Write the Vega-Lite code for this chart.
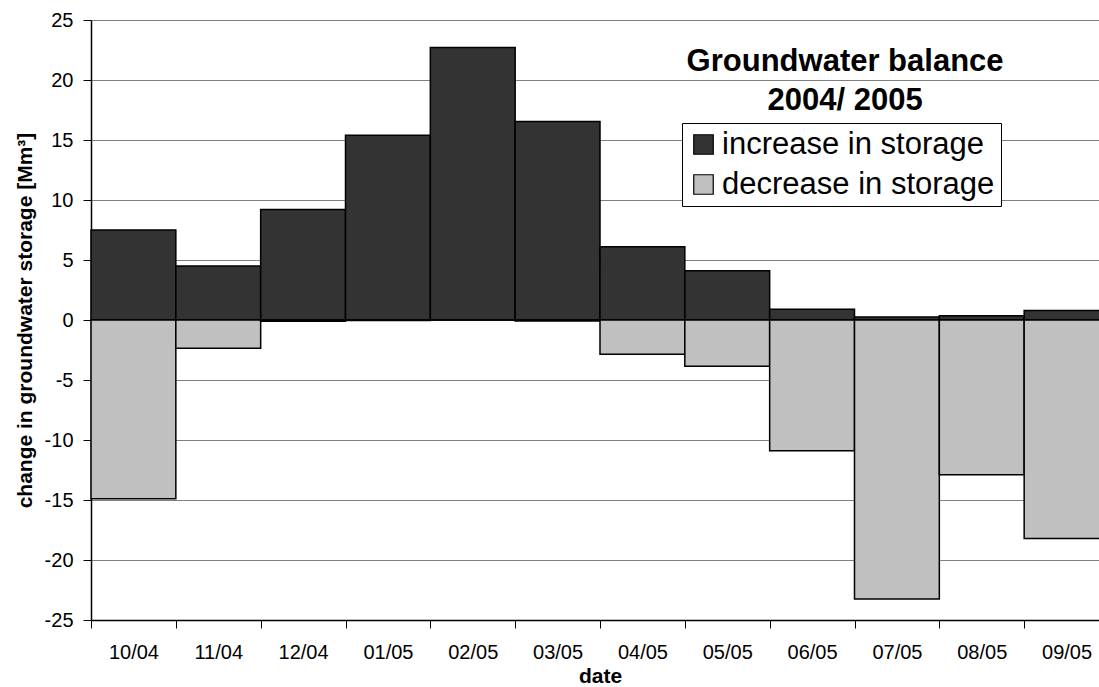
{
  "$schema": "https://vega.github.io/schema/vega-lite/v6.json",
  "width": 1018,
  "height": 600,
  "autosize": {"type": "none"},
  "padding": {"left": 91, "top": 20, "right": -10, "bottom": 67},
  "background": "white",
  "config": {"view": {"stroke": null}, "font": "Liberation Sans"},
  "title": {
    "text": ["Groundwater balance", "2004/ 2005"],
    "anchor": "start",
    "align": "center",
    "dx": 831,
    "dy": 107,
    "offset": 0,
    "baseline": "top",
    "fontSize": 31,
    "fontWeight": "bold",
    "font": "Liberation Sans",
    "lineHeight": 39,
    "color": "black"
  },
  "data": {
    "values": [
      {"date": "10/04", "type": "increase in storage", "value": 7.5},
      {"date": "10/04", "type": "decrease in storage", "value": -14.9},
      {"date": "11/04", "type": "increase in storage", "value": 4.5},
      {"date": "11/04", "type": "decrease in storage", "value": -2.35},
      {"date": "12/04", "type": "increase in storage", "value": 9.2},
      {"date": "12/04", "type": "decrease in storage", "value": -0.1},
      {"date": "01/05", "type": "increase in storage", "value": 15.4},
      {"date": "01/05", "type": "decrease in storage", "value": -0.05},
      {"date": "02/05", "type": "increase in storage", "value": 22.7},
      {"date": "02/05", "type": "decrease in storage", "value": 0},
      {"date": "03/05", "type": "increase in storage", "value": 16.55},
      {"date": "03/05", "type": "decrease in storage", "value": -0.08},
      {"date": "04/05", "type": "increase in storage", "value": 6.1},
      {"date": "04/05", "type": "decrease in storage", "value": -2.85},
      {"date": "05/05", "type": "increase in storage", "value": 4.1},
      {"date": "05/05", "type": "decrease in storage", "value": -3.85},
      {"date": "06/05", "type": "increase in storage", "value": 0.9},
      {"date": "06/05", "type": "decrease in storage", "value": -10.9},
      {"date": "07/05", "type": "increase in storage", "value": 0.25},
      {"date": "07/05", "type": "decrease in storage", "value": -23.25},
      {"date": "08/05", "type": "increase in storage", "value": 0.35},
      {"date": "08/05", "type": "decrease in storage", "value": -12.9},
      {"date": "09/05", "type": "increase in storage", "value": 0.8},
      {"date": "09/05", "type": "decrease in storage", "value": -18.2}
    ]
  },
  "mark": {"type": "bar", "stroke": "black", "strokeWidth": 1.5},
  "encoding": {
    "x": {
      "field": "date",
      "type": "ordinal",
      "sort": null,
      "scale": {"paddingInner": 0, "paddingOuter": 0},
      "axis": {
        "title": "date",
        "titleFontSize": 21,
        "titleFontWeight": "bold",
        "titleColor": "black",
        "titlePadding": 3,
        "labelAngle": 0,
        "labelFontSize": 20,
        "labelColor": "black",
        "labelPadding": 14,
        "tickBand": "extent",
        "tickSize": 8,
        "tickColor": "black",
        "domainColor": "black",
        "domainWidth": 1.5,
        "grid": false
      }
    },
    "y": {
      "field": "value",
      "type": "quantitative",
      "stack": null,
      "scale": {"domain": [-25, 25], "nice": false},
      "axis": {
        "title": "change in groundwater storage [Mm³]",
        "titleFontSize": 21,
        "titleFontWeight": "bold",
        "titleColor": "black",
        "titlePadding": 9,
        "values": [-25, -20, -15, -10, -5, 0, 5, 10, 15, 20, 25],
        "labelExpr": "replace(datum.label, '−', '-')",
        "labelFontSize": 20,
        "labelColor": "black",
        "labelPadding": 10,
        "tickSize": 8,
        "tickColor": "black",
        "domainColor": "black",
        "domainWidth": 1.5,
        "grid": true,
        "gridColor": "#808080",
        "gridWidth": 1.2
      }
    },
    "color": {
      "field": "type",
      "type": "nominal",
      "scale": {
        "domain": ["increase in storage", "decrease in storage"],
        "range": ["#333333", "#c0c0c0"]
      },
      "legend": {
        "title": null,
        "orient": "none",
        "legendX": 591,
        "legendY": 103,
        "fillColor": "white",
        "strokeColor": "black",
        "padding": 6,
        "rowPadding": 8,
        "labelFontSize": 31,
        "labelColor": "black",
        "labelLimit": 600,
        "labelOffset": 3,
        "symbolType": "square",
        "symbolSize": 380,
        "symbolStrokeColor": "black",
        "symbolStrokeWidth": 1.2,
        "symbolOpacity": 1
      }
    }
  }
}
